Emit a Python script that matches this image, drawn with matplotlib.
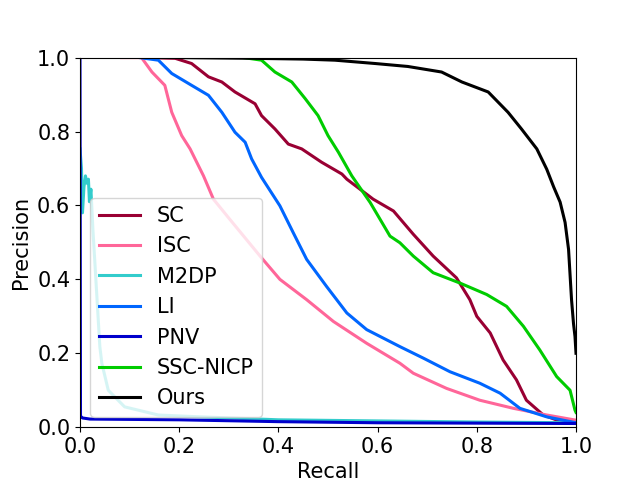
import matplotlib
matplotlib.use('Agg')
import matplotlib.pyplot as plt

# precision-recall curves
sc_r = [0.13, 0.192, 0.225, 0.259, 0.286, 0.3125, 0.353, 0.366, 0.393, 0.42, 0.447, 0.487,
        0.528, 0.538, 0.591, 0.632, 0.672, 0.712, 0.759, 0.786, 0.80, 0.827, 0.853, 0.88,
        0.90, 0.934, 0.96, 1.0]
sc_p = [1.0, 0.998, 0.984, 0.948, 0.934, 0.907, 0.875, 0.843, 0.807, 0.766, 0.753, 0.717,
        0.685, 0.671, 0.617, 0.585, 0.522, 0.463, 0.404, 0.345, 0.30, 0.255, 0.182, 0.128,
        0.073, 0.033, 0.02, 0.015]

isc_r = [0.084, 0.124, 0.145, 0.171, 0.185, 0.205, 0.222, 0.249, 0.269, 0.302, 0.363, 0.403,
         0.457, 0.511, 0.578, 0.645, 0.672, 0.739, 0.806, 0.874, 0.941, 1.0]
isc_p = [1.0, 1.0, 0.961, 0.925, 0.852, 0.789, 0.753, 0.68, 0.617, 0.5625, 0.463, 0.40,
         0.345, 0.286, 0.227, 0.173, 0.146, 0.105, 0.073, 0.051, 0.033, 0.019]

m2dp_r = [0.0, 0.003, 0.005, 0.008, 0.011, 0.014, 0.017, 0.019, 0.022, 0.026, 0.03, 0.034,
          0.04, 0.044, 0.057, 0.09, 0.158, 0.225, 0.4, 0.6, 0.8, 1.0]
m2dp_p = [0.753, 0.70, 0.58, 0.65, 0.68, 0.66, 0.671, 0.61, 0.644, 0.535, 0.445, 0.354,
          0.218, 0.173, 0.10, 0.055, 0.033, 0.029, 0.02, 0.017, 0.014, 0.012]

li_r = [0.12, 0.158, 0.185, 0.225, 0.259, 0.286, 0.3125, 0.333, 0.346, 0.366, 0.403, 0.43,
        0.457, 0.497, 0.538, 0.578, 0.645, 0.692, 0.746, 0.806, 0.847, 0.887, 0.941, 1.0]
li_p = [1.0, 0.993, 0.957, 0.925, 0.898, 0.852, 0.798, 0.771, 0.726, 0.676, 0.599, 0.526,
        0.454, 0.381, 0.309, 0.264, 0.218, 0.187, 0.15, 0.119, 0.092, 0.051, 0.028, 0.012]

pnv_r = [0.0, 0.001, 0.005, 0.02, 0.2, 0.4, 0.6, 1.0]
pnv_p = [1.0, 0.03, 0.025, 0.022, 0.02, 0.015, 0.012, 0.01]

ssc_r = [0.33, 0.366, 0.393, 0.427, 0.454, 0.48, 0.5, 0.521, 0.548, 0.585, 0.605, 0.625,
         0.645, 0.672, 0.712, 0.766, 0.82, 0.86, 0.894, 0.927, 0.961, 0.988, 0.998, 1.0]
ssc_p = [1.0, 0.993, 0.961, 0.934, 0.889, 0.843, 0.789, 0.744, 0.68, 0.608, 0.5625, 0.517,
         0.499, 0.463, 0.418, 0.39, 0.359, 0.327, 0.273, 0.209, 0.137, 0.10, 0.046, 0.04]

ours_r = [0.2, 0.35, 0.45, 0.514, 0.595, 0.661, 0.729, 0.77, 0.823, 0.863, 0.89, 0.921,
          0.941, 0.955, 0.968, 0.978, 0.985, 0.991, 0.995, 0.998, 1.0]
ours_p = [1.0, 0.998, 0.996, 0.993, 0.984, 0.976, 0.961, 0.934, 0.907, 0.852, 0.807, 0.753,
          0.698, 0.65, 0.609, 0.554, 0.481, 0.345, 0.28, 0.245, 0.20]

names = ['SC', 'ISC', 'M2DP', 'LI', 'PNV', 'SSC-NICP', 'Ours']
colors = ['#990033', '#ff6699', '#33cccc', '#0066ff', '#0000cc', '#00cc00', '#000000']
curves = [(sc_r, sc_p), (isc_r, isc_p), (m2dp_r, m2dp_p), (li_r, li_p),
          (pnv_r, pnv_p), (ssc_r, ssc_p), (ours_r, ours_p)]

fig, ax = plt.subplots(figsize=(6.4, 4.8), dpi=100)
for (r, p), name, c in zip(curves, names, colors):
    ax.plot(r, p, color=c, linewidth=2.2, label=name)

ax.set_xlim(0, 1)
ax.set_ylim(0, 1)
ax.set_xlabel('Recall', fontsize=15)
ax.set_ylabel('Precision', fontsize=15)
ax.tick_params(labelsize=15)
ax.legend(loc='lower left', fontsize=15)

fig.savefig('out.png', dpi=100)
